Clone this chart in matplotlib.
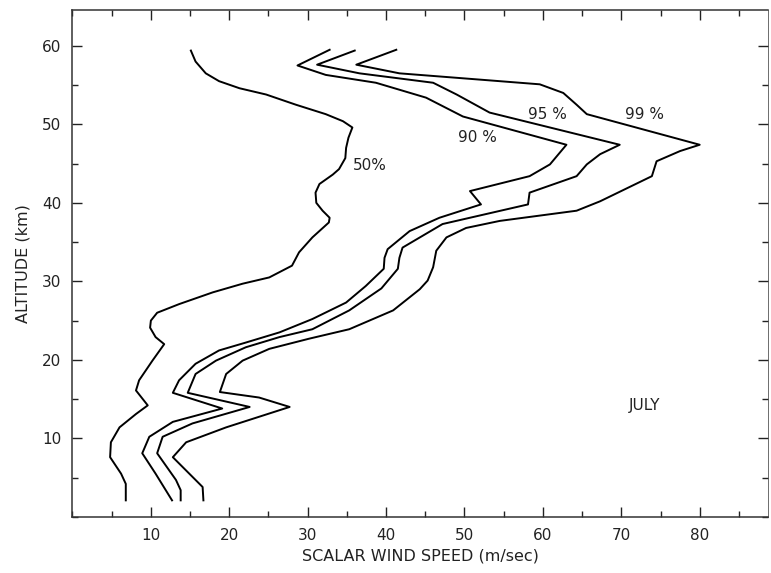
import matplotlib.pyplot as plt
from matplotlib.ticker import MultipleLocator

# wind speed (m/sec) vs altitude (km) for each percentile curve, July
p50_speed = [15.1, 15.7, 17.0, 18.7, 21.3, 24.7, 28.5, 32.3, 34.5, 35.7, 35.2, 34.9, 34.8, 34.0, 33.2,
             31.5, 31.0, 31.1, 31.9, 32.8, 32.7, 30.6, 28.9, 28.0, 25.1, 21.7, 17.9, 13.6, 10.8, 10.0,
             9.9, 10.6, 11.7, 10.2, 8.5, 8.1, 9.6, 8.1, 6.0, 4.9, 4.8, 6.2, 6.8, 6.8]
p50_alt = [59.4, 58.0, 56.5, 55.5, 54.6, 53.8, 52.5, 51.3, 50.4, 49.6, 48.3, 47.0, 45.7, 44.3, 43.6,
           42.4, 41.3, 40.0, 39.0, 38.1, 37.5, 35.6, 33.7, 32.0, 30.5, 29.7, 28.6, 27.1, 26.0, 25.0,
           24.1, 22.9, 22.0, 19.9, 17.4, 16.1, 14.2, 13.1, 11.4, 9.5, 7.6, 5.5, 4.2, 2.1]

p90_speed = [32.8, 28.7, 32.3, 38.7, 45.1, 49.8, 63.0, 60.9, 58.3, 51.1, 50.7, 52.1, 46.8, 43.0, 40.2,
             39.8, 39.7, 37.4, 34.9, 30.6, 26.4, 22.1, 18.7, 15.7, 13.6, 12.8, 19.1, 12.8, 9.8, 8.9,
             10.6, 12.7]
p90_alt = [59.5, 57.5, 56.3, 55.3, 53.4, 51.0, 47.4, 44.9, 43.4, 41.6, 41.5, 39.8, 38.1, 36.4, 34.1,
           33.0, 31.6, 29.4, 27.3, 25.2, 23.5, 22.2, 21.2, 19.5, 17.4, 15.8, 13.8, 12.1, 10.2, 8.1,
           5.5, 2.1]

p95_speed = [36.0, 31.2, 36.6, 46.0, 49.0, 53.2, 69.8, 67.3, 65.6, 64.3, 58.3, 58.1, 47.2, 42.1, 41.7,
             41.5, 39.4, 35.3, 30.6, 26.4, 22.1, 18.3, 15.7, 14.7, 22.6, 15.3, 11.5, 10.8, 13.2, 13.8,
             13.8]
p95_alt = [59.4, 57.6, 56.5, 55.3, 53.8, 51.5, 47.4, 46.2, 44.9, 43.4, 41.3, 39.8, 37.3, 34.3, 33.0,
           31.6, 29.1, 26.3, 23.9, 22.9, 21.6, 19.9, 18.2, 15.8, 14.0, 11.9, 10.2, 8.1, 4.7, 3.4,
           2.1]

p99_speed = [41.3, 36.2, 41.7, 54.5, 59.6, 62.6, 64.3, 65.6, 80.0, 77.5, 74.5, 73.9, 67.3, 64.3, 54.5,
             50.2, 47.7, 46.4, 46.0, 45.3, 44.3, 40.9, 35.3, 30.2, 25.1, 21.7, 19.6, 18.8, 23.8, 27.7,
             19.6, 14.5, 12.8, 16.6, 16.7]
p99_alt = [59.5, 57.6, 56.5, 55.5, 55.1, 54.0, 52.5, 51.3, 47.4, 46.6, 45.3, 43.4, 40.2, 39.0, 37.7,
           36.8, 35.6, 33.9, 31.8, 30.1, 29.0, 26.3, 23.9, 22.7, 21.4, 19.9, 18.2, 15.9, 15.2, 14.0,
           11.4, 9.5, 7.6, 3.8, 2.1]

labels = ["50%", "90 %", "95 %", "99 %"]
label_pos = [(37.9, 44.7), (51.7, 48.3), (60.6, 51.3), (73.0, 51.2)]

fig = plt.figure(figsize=(7.71, 5.73), dpi=100)
ax = fig.add_axes([0.094, 0.098, 0.902, 0.885])

for xs, ys in [(p50_speed, p50_alt), (p90_speed, p90_alt), (p95_speed, p95_alt), (p99_speed, p99_alt)]:
    ax.plot(xs, ys, color='black', linewidth=1.4)

for lab, (lx, ly) in zip(labels, label_pos):
    ax.text(lx, ly, lab, fontsize=11, ha='center', va='center', color='#222222')
ax.text(73.0, 14.2, "JULY", fontsize=11, ha='center', va='center', color='#222222')

ax.set_xlim(0, 88.7)
ax.set_ylim(0, 64.6)
ax.xaxis.set_minor_locator(MultipleLocator(5))
ax.yaxis.set_minor_locator(MultipleLocator(5))
ax.set_xticks(range(10, 90, 10))
ax.set_yticks(range(10, 70, 10))
ax.tick_params(which='both', direction='in', top=True, right=True, colors='#222222',
               labelsize=11, width=1)
ax.tick_params(which='major', length=7, pad=8)
ax.tick_params(which='minor', length=4)
for side in ax.spines.values():
    side.set_linewidth(1.1)
    side.set_color('#333333')
ax.spines['right'].set_linewidth(0.5)

ax.set_xlabel("SCALAR WIND SPEED (m/sec)", fontsize=11.5, color='#222222', labelpad=4)
ax.set_ylabel("ALTITUDE (km)", fontsize=11.5, color='#222222', labelpad=8)

fig.savefig("out.png", dpi=100)
